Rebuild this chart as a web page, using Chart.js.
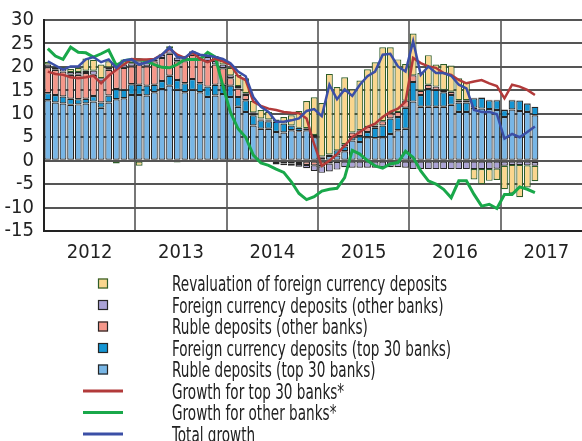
<!DOCTYPE html>
<html><head><meta charset="utf-8">
<script src="https://cdn.jsdelivr.net/npm/chart.js@4.4.1/dist/chart.umd.min.js"></script>
<style>html,body{margin:0;padding:0;overflow:hidden;background:#fff;width:582px;height:441px}canvas{display:block}</style>
</head><body>
<canvas id="c" width="592" height="441" style="width:592px;height:441px"></canvas>
<script>
const months = [
 '2012-01','2012-02','2012-03','2012-04','2012-05','2012-06','2012-07','2012-08','2012-09','2012-10','2012-11','2012-12',
 '2013-01','2013-02','2013-03','2013-04','2013-05','2013-06','2013-07','2013-08','2013-09','2013-10','2013-11','2013-12',
 '2014-01','2014-02','2014-03','2014-04','2014-05','2014-06','2014-07','2014-08','2014-09','2014-10','2014-11','2014-12',
 '2015-01','2015-02','2015-03','2015-04','2015-05','2015-06','2015-07','2015-08','2015-09','2015-10','2015-11','2015-12',
 '2016-01','2016-02','2016-03','2016-04','2016-05','2016-06','2016-07','2016-08','2016-09','2016-10','2016-11','2016-12',
 '2017-01','2017-02','2017-03','2017-04','2017-05','2017-06','2017-07','2017-08','2017-09','2017-10','2017-11','2017-12'];
const yearLabels = ['2012','2013','2014','2015','2016','2017'];
const yTicks = [-15,-10,-5,0,5,10,15,20,25,30];

const rubleTop30 = [12.9,12.4,12.2,11.9,12.0,12.2,12.6,11.3,12.4,13.1,13.3,14.0,
 14.0,13.9,14.6,15.3,16.0,15.1,14.6,15.1,14.6,13.6,13.9,14.2,
 13.6,11.5,10.4,7.5,6.8,6.8,6.1,6.0,6.5,6.3,6.5,5.0,
 0.6,1.0,1.1,2.0,4.3,4.0,5.0,4.8,5.0,5.7,6.5,6.8,
 12.6,11.5,11.5,11.5,11.5,11.9,10.4,10.4,11.3,11.1,11.0,10.8,
 9.3,10.9,10.6,10.4,9.7];
const fxTop30 = [1.5,1.6,1.5,1.3,1.1,1.0,1.2,1.1,1.5,2.2,1.8,2.3,
 2.2,2.1,1.6,1.7,2.1,2.1,1.9,2.3,1.9,2.2,2.3,2.0,
 2.4,2.1,2.5,2.2,1.8,1.6,2.2,1.9,1.0,0.7,0.4,0.5,
 0.3,0.3,1.1,1.0,0.7,1.2,1.1,2.2,2.5,3.3,2.8,4.5,
 4.2,2.5,3.8,3.6,3.1,2.1,2.0,2.0,2.0,2.3,1.9,2.1,
 1.5,2.0,2.2,1.8,1.8];
const rubleOther = [5.5,5.4,5.3,5.1,5.2,5.5,4.5,4.5,5.5,5.0,4.7,3.8,
 4.3,4.1,5.0,4.9,4.7,4.0,4.7,5.2,5.4,5.4,4.3,3.5,
 1.6,1.8,1.1,0.3,0.2,0.2,-0.5,-0.6,-0.6,-0.7,-0.9,-1.0,
 -1.2,-0.6,-0.3,0.5,1.0,1.3,1.1,0.5,0.9,1.1,1.1,1.5,
 1.4,0.9,0.9,0.7,0.5,0.7,0.5,0.5,0.1,0.1,0.1,0.1,
 0.1,0.1,0.1,0.1,-0.3];
const fxOther = [0.6,0.5,0.6,0.6,0.6,0.5,0.9,0.7,0.5,0.6,0.7,0.7,
 0.7,0.7,0.4,0.7,1.1,0.8,0.8,0.7,0.7,0.9,0.8,0.8,
 0.6,0.5,0.4,0.3,0.2,0.2,-0.3,-0.4,-0.5,-0.6,-0.7,-1.2,
 -1.4,-1.7,-1.6,-1.4,-1.5,-1.5,-1.5,-1.5,-1.4,-1.4,-1.4,-1.5,
 -1.8,-1.8,-1.8,-1.8,-1.8,-1.8,-1.8,-1.8,-1.8,-1.8,-1.8,-1.7,
 -1.1,-0.9,-0.9,-1.0,-0.8];
const revaluation = [0.6,0.2,0.3,0.7,0.9,2.6,2.3,2.9,1.3,-0.6,1.1,0.4,
 -1.1,0.2,0.3,0.2,0.5,-0.4,0.3,0.1,0.1,0.3,1.0,0.8,
 1.6,2.4,3.2,2.4,1.8,1.6,0.5,1.4,2.2,3.6,5.8,8.0,
 11.4,17.2,13.5,14.3,9.2,10.6,12.3,13.5,15.8,14.1,11.2,7.8,
 8.9,3.8,6.3,4.7,5.5,5.6,4.7,3.8,-2.2,-3.2,-2.5,-2.4,
 -5.0,-6.1,-6.9,-4.7,-3.3];
const growthTop30 = [19.0,18.5,18.3,17.8,17.6,17.8,18.1,16.5,18.1,19.4,20.5,21.7,
 21.6,21.6,21.7,22.6,23.9,22.6,21.9,23.1,21.7,21.0,21.7,21.2,
 20.5,18.0,17.2,12.6,11.7,11.1,10.8,10.4,10.2,10.1,9.0,3.5,
 -1.1,0.0,1.4,3.2,5.0,6.1,7.2,7.9,9.3,10.4,11.1,12.6,
 21.9,20.8,20.1,19.8,18.7,18.3,17.2,16.5,16.9,17.2,16.5,15.9,
 13.3,16.2,15.8,15.1,14.0];
const growthOther = [23.9,22.3,21.6,24.2,23.1,23.0,22.1,22.8,23.6,20.3,21.3,21.6,
 21.6,21.2,20.5,19.9,19.8,20.5,21.6,21.6,21.6,23.1,22.1,16.0,
 10.3,6.8,5.0,1.2,-0.5,-1.0,-1.8,-2.5,-4.5,-7.0,-8.3,-7.7,
 -6.5,-6.1,-5.9,-3.6,2.2,1.4,0.0,-1.1,-1.6,-0.7,-0.4,2.0,
 0.7,-2.2,-4.3,-5.0,-6.1,-7.9,-4.3,-4.3,-7.2,-9.7,-9.3,-10.2,
 -7.2,-7.2,-5.6,-6.1,-6.8];
const totalGrowth = [21.2,20.3,19.4,20.1,20.1,21.6,22.1,21.0,21.6,19.8,21.4,21.6,
 20.5,21.0,21.6,22.6,24.2,22.1,21.9,23.3,22.6,22.4,22.1,21.7,
 20.8,19.0,18.0,13.6,11.5,10.4,8.3,8.3,8.6,9.0,10.6,11.0,
 9.5,16.2,13.1,15.2,13.8,16.2,18.0,19.0,22.6,22.8,20.1,19.0,
 25.5,18.3,20.1,18.7,18.7,18.1,16.2,15.4,10.8,10.4,10.4,9.9,
 4.7,5.7,5.0,6.1,7.3];

const FONT = '"Liberation Sans Narrow","DejaVu Sans Condensed","Arial Narrow",sans-serif';
const legendOrder = [4,3,2,1,0,5,6,7];

const barCommon = {type:'bar', xAxisID:'x', yAxisID:'y', stack:'dep', order:2,
  borderWidth:1.2, borderSkipped:false, barPercentage:0.9, categoryPercentage:1.0};

const legendPlugin = {
  id:'vlegend',
  afterDraw(chart){
    const ctx = chart.ctx, ds = chart.data.datasets;
    ctx.save();
    ctx.font = '21px ' + FONT;
    const w0 = ctx.measureText(ds[legendOrder[0]].label).width;
    const sx = Math.min(1, 275 / w0);
    legendOrder.forEach((di, k) => {
      const d = ds[di];
      const base = 291 + k * 21.5;
      const cy = base - 7.5;
      if (d.type === 'line') {
        ctx.strokeStyle = d.borderColor; ctx.lineWidth = 3;
        ctx.beginPath(); ctx.moveTo(83, cy); ctx.lineTo(123, cy); ctx.stroke();
      } else {
        ctx.fillStyle = d.backgroundColor; ctx.fillRect(98, cy - 5, 10, 10);
        ctx.strokeStyle = d.borderColor; ctx.lineWidth = 1.2; ctx.strokeRect(98.5, cy - 4.5, 9, 9);
      }
      ctx.save(); ctx.translate(172, base); ctx.scale(sx, 1);
      ctx.fillStyle = '#222'; ctx.textBaseline = 'alphabetic'; ctx.textAlign = 'left';
      ctx.fillText(d.label, 0, 0);
      ctx.restore();
    });
    ctx.restore();
  }
};

new Chart(document.getElementById('c'), {
  type:'bar',
  data:{
    labels: months,
    datasets:[
      {...barCommon, label:'Ruble deposits (top 30 banks)', data:rubleTop30, backgroundColor:'#78b6e6', borderColor:'#262626'},
      {...barCommon, label:'Foreign currency deposits (top 30 banks)', data:fxTop30, backgroundColor:'#1595d3', borderColor:'#262626'},
      {...barCommon, label:'Ruble deposits (other banks)', data:rubleOther, backgroundColor:'#f5978a', borderColor:'#262626'},
      {...barCommon, label:'Foreign currency deposits (other banks)', data:fxOther, backgroundColor:'#aaa2d6', borderColor:'#262626'},
      {...barCommon, label:'Revaluation of foreign currency deposits', data:revaluation, backgroundColor:'#fad68e', borderColor:'#2f5e2a'},
      {type:'line', label:'Growth for top 30 banks*', data:growthTop30, xAxisID:'x', yAxisID:'y', stack:'l1', order:1,
        borderColor:'#b23a3a', borderWidth:2.5, pointRadius:0, tension:0, fill:false},
      {type:'line', label:'Growth for other banks*', data:growthOther, xAxisID:'x', yAxisID:'y', stack:'l2', order:1,
        borderColor:'#19a84a', borderWidth:3, pointRadius:0, tension:0, fill:false},
      {type:'line', label:'Total growth', data:totalGrowth, xAxisID:'x', yAxisID:'y', stack:'l3', order:0,
        borderColor:'#3b4fa6', borderWidth:2.5, pointRadius:0, tension:0, fill:false}
    ]
  },
  options:{
    responsive:false, animation:false, devicePixelRatio:1,
    layout:{padding:{top:20, bottom:167, left:0, right:0}},
    plugins:{legend:{display:false}, tooltip:{enabled:false}},
    scales:{
      x:{type:'category', stacked:true, offset:true, position:'bottom',
        ticks:{autoSkip:false, maxRotation:0, minRotation:0, padding:9.5, labelOffset:-3.8,
          color:'#222', font:{family:FONT, size:20},
          callback:(v, i)=> (i % 12 === 6) ? yearLabels[(i-6)/12] : ''},
        grid:{display:true, drawOnChartArea:true, offset:true, drawTicks:false, lineWidth:2,
          color:(c)=> (c.index % 12 === 0) ? '#777777' : 'rgba(255,255,255,0)'},
        border:{display:true, color:'#222', width:2},
        afterFit(s){ s.paddingLeft = 0; s.paddingRight = 0; }
      },
      y:{type:'linear', stacked:true, min:-15, max:30,
        afterBuildTicks(s){ s.ticks = yTicks.map(v => ({value:v})); },
        ticks:{autoSkip:false, padding:10, color:'#222', font:{family:FONT, size:20, lineHeight:1}},
        grid:{display:true, drawOnChartArea:true, color:'#555555', lineWidth:2, drawTicks:false},
        border:{display:true, color:'#222', width:2},
        afterFit(s){ s.width = 44; }
      }
    }
  },
  plugins:[legendPlugin]
});
</script>
</body></html>
